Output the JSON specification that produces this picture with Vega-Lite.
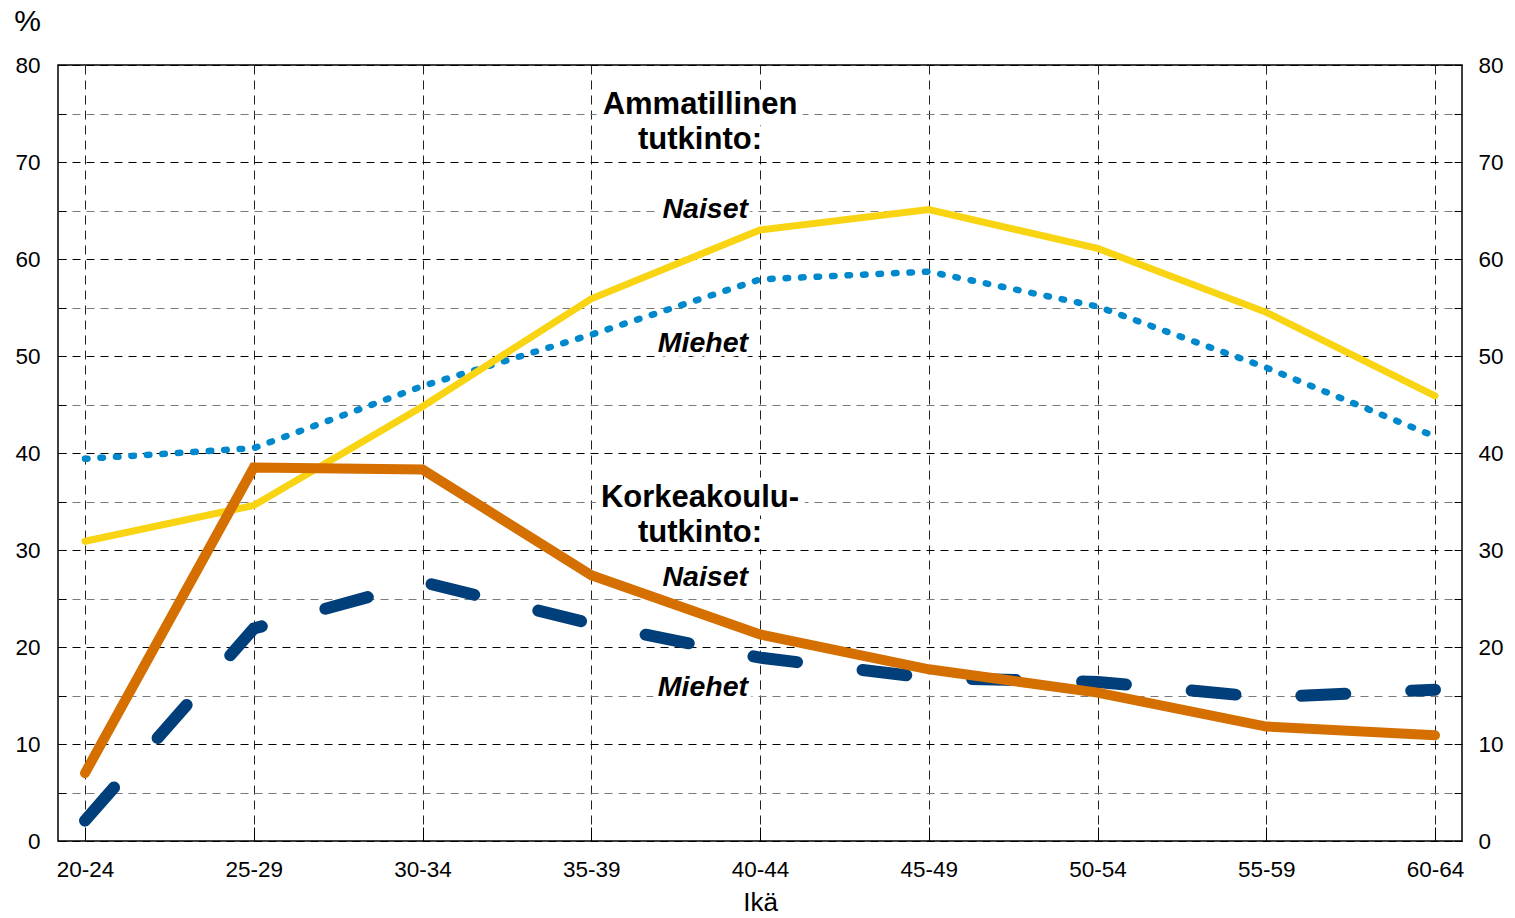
{
  "$schema": "https://vega.github.io/schema/vega-lite/v6.json",
  "autosize": "none",
  "width": 1404,
  "height": 776,
  "padding": {"left": 58, "top": 65, "right": 53, "bottom": 77},
  "background": "white",
  "config": {
    "font": "Liberation Sans",
    "view": {"stroke": "black", "strokeWidth": 1.5},
    "axis": {"labelFont": "Liberation Sans", "titleFont": "Liberation Sans", "labelColor": "black", "titleColor": "black", "domain": false}
  },
  "datasets": {
    "lines": [
      {"age": "20-24", "value": 30.9, "series": "AN"},
      {"age": "25-29", "value": 34.6, "series": "AN"},
      {"age": "30-34", "value": 44.8, "series": "AN"},
      {"age": "35-39", "value": 55.9, "series": "AN"},
      {"age": "40-44", "value": 63.0, "series": "AN"},
      {"age": "45-49", "value": 65.1, "series": "AN"},
      {"age": "50-54", "value": 61.1, "series": "AN"},
      {"age": "55-59", "value": 54.5, "series": "AN"},
      {"age": "60-64", "value": 45.9, "series": "AN"},
      {"age": "20-24", "value": 39.4, "series": "AM"},
      {"age": "25-29", "value": 40.5, "series": "AM"},
      {"age": "30-34", "value": 46.9, "series": "AM"},
      {"age": "35-39", "value": 52.2, "series": "AM"},
      {"age": "40-44", "value": 57.9, "series": "AM"},
      {"age": "45-49", "value": 58.7, "series": "AM"},
      {"age": "50-54", "value": 55.1, "series": "AM"},
      {"age": "55-59", "value": 48.8, "series": "AM"},
      {"age": "60-64", "value": 41.7, "series": "AM"},
      {"age": "20-24", "value": 7.0, "series": "KN"},
      {"age": "25-29", "value": 38.5, "series": "KN"},
      {"age": "30-34", "value": 38.3, "series": "KN"},
      {"age": "35-39", "value": 27.4, "series": "KN"},
      {"age": "40-44", "value": 21.3, "series": "KN"},
      {"age": "45-49", "value": 17.7, "series": "KN"},
      {"age": "50-54", "value": 15.3, "series": "KN"},
      {"age": "55-59", "value": 11.8, "series": "KN"},
      {"age": "60-64", "value": 10.9, "series": "KN"},
      {"age": "20-24", "value": 2.1, "series": "KM"},
      {"age": "25-29", "value": 21.9, "series": "KM"},
      {"age": "30-34", "value": 26.7, "series": "KM"},
      {"age": "35-39", "value": 22.4, "series": "KM"},
      {"age": "40-44", "value": 18.9, "series": "KM"},
      {"age": "45-49", "value": 16.8, "series": "KM"},
      {"age": "50-54", "value": 16.4, "series": "KM"},
      {"age": "55-59", "value": 14.8, "series": "KM"},
      {"age": "60-64", "value": 15.6, "series": "KM"}
    ],
    "titles": [
      {"age": "40-44", "value": 74.9, "label": "Ammatillinen"},
      {"age": "40-44", "value": 71.3, "label": "tutkinto:"},
      {"age": "40-44", "value": 34.4, "label": "Korkeakoulu-"},
      {"age": "40-44", "value": 30.8, "label": "tutkinto:"}
    ],
    "subs": [
      {"age": "40-44", "value": 64.2, "label": "Naiset"},
      {"age": "40-44", "value": 50.4, "label": "Miehet"},
      {"age": "40-44", "value": 26.3, "label": "Naiset"},
      {"age": "40-44", "value": 15.0, "label": "Miehet"}
    ]
  },
  "encoding": {
    "x": {
      "field": "age", "type": "ordinal",
      "scale": {"type": "point", "padding": 0.16, "domain": ["20-24","25-29","30-34","35-39","40-44","45-49","50-54","55-59","60-64"]},
      "axis": {
        "title": "Ikä", "titleFontSize": 26, "titleFontWeight": "normal", "titlePadding": 9,
        "labelFontSize": 22.5, "labelAngle": 0, "labelPadding": 31,
        "grid": true, "gridDash": [9, 6], "gridColor": "#222222", "gridWidth": 1,
        "ticks": true, "tickSize": -14, "tickColor": "black", "tickWidth": 1
      }
    },
    "y": {"field": "value", "type": "quantitative", "scale": {"domain": [0, 80], "nice": false, "zero": true}, "axis": null}
  },
  "resolve": {"axis": {"y": "independent"}},
  "layer": [
    {
      "data": {"name": "lines"},
      "transform": [{"filter": "datum.series === 'KM'"}],
      "mark": {"type": "line", "color": "#003F7A", "strokeWidth": 12, "strokeCap": "round", "strokeDash": [44, 66]},
      "encoding": {
        "y": {"field": "value", "type": "quantitative", "scale": {"domain": [0, 80], "nice": false},
          "axis": {
            "orient": "left", "values": [0,5,10,15,20,25,30,35,40,45,50,55,60,65,70,75,80],
            "labelExpr": "datum.value % 10 === 0 ? datum.label : ''",
            "labelFontSize": 22.5, "labelPadding": 26,
            "grid": true, "gridDash": [8, 6], "gridWidth": 1,
            "gridColor": {"condition": {"test": "datum.value % 10 === 0", "value": "#000000"}, "value": "#7a7a7a"},
            "ticks": true, "tickSize": -8, "tickColor": "black",
            "title": "%", "titleAngle": 0, "titleFontSize": 30, "titleFontWeight": "normal",
            "titleAlign": "center", "titleBaseline": "alphabetic", "titleX": -31, "titleY": -35
          }
        }
      }
    },
    {
      "data": {"name": "lines"},
      "transform": [{"filter": "datum.series === 'AM'"}],
      "mark": {"type": "line", "color": "#0088CC", "strokeWidth": 6.5, "strokeCap": "round", "strokeDash": [2.5, 13]},
      "encoding": {
        "y": {"field": "value", "type": "quantitative", "scale": {"domain": [0, 80], "nice": false},
          "axis": {
            "orient": "right", "values": [0,5,10,15,20,25,30,35,40,45,50,55,60,65,70,75,80],
            "labelExpr": "datum.value % 10 === 0 ? datum.label : ''",
            "labelFontSize": 22.5, "labelPadding": 24, "grid": false,
            "ticks": true, "tickSize": -8, "tickColor": "black", "title": null
          }
        }
      }
    },
    {
      "data": {"name": "lines"},
      "transform": [{"filter": "datum.series === 'AN'"}],
      "mark": {"type": "line", "color": "#F9D412", "strokeWidth": 7, "strokeCap": "round"}
    },
    {
      "data": {"name": "lines"},
      "transform": [{"filter": "datum.series === 'KN'"}],
      "mark": {"type": "line", "color": "#D46F00", "strokeWidth": 10, "strokeCap": "round"}
    },
    {
      "data": {"name": "titles"},
      "mark": {"type": "text", "align": "center", "baseline": "alphabetic", "dx": -60, "fontSize": 31, "fontWeight": "bold", "stroke": "white", "strokeWidth": 14, "strokeJoin": "round", "fill": "white"},
      "encoding": {"text": {"field": "label"}}
    },
    {
      "data": {"name": "titles"},
      "mark": {"type": "text", "align": "center", "baseline": "alphabetic", "dx": -60, "fontSize": 31, "fontWeight": "bold", "color": "black"},
      "encoding": {"text": {"field": "label"}}
    },
    {
      "data": {"name": "subs"},
      "mark": {"type": "text", "align": "right", "baseline": "alphabetic", "dx": -12, "fontSize": 28.5, "fontWeight": "bold", "fontStyle": "italic", "stroke": "white", "strokeWidth": 10, "strokeJoin": "round", "fill": "white"},
      "encoding": {"text": {"field": "label"}}
    },
    {
      "data": {"name": "subs"},
      "mark": {"type": "text", "align": "right", "baseline": "alphabetic", "dx": -12, "fontSize": 28.5, "fontWeight": "bold", "fontStyle": "italic", "color": "black"},
      "encoding": {"text": {"field": "label"}}
    }
  ]
}
